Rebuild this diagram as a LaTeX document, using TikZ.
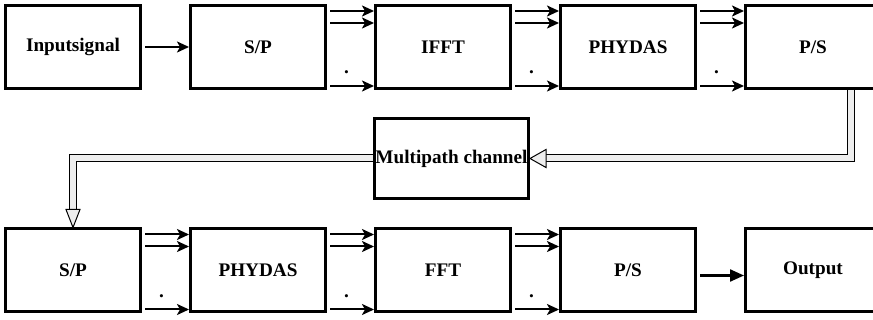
\documentclass[tikz,border=0pt]{standalone}
\usepackage{fontspec}
\setmainfont{Liberation Serif}
\usepackage{tikz}
\usetikzlibrary{arrows.meta,positioning,calc}
\definecolor{pipegray}{RGB}{238,238,238}

\begin{document}
\begin{tikzpicture}[
  x=0.5pt, y=-0.5pt,
  font=\fontsize{9.6}{11}\selectfont\bfseries,
  blk/.style={draw, line width=1.5pt, minimum width=67.5pt, minimum height=41.5pt,
              inner sep=0pt, align=center},
  arr/.style={-{Stealth[length=6pt,width=5.5pt,inset=1.5pt]}, line width=1pt,
              shorten <=1.5pt},
  bigarr/.style={-{Triangle[length=7pt,width=6pt]}, line width=1.1pt},
  pipe/.style={draw, line width=0.5pt, double=pipegray, double distance=3pt},
  pipehead/.style={draw, line width=0.5pt, fill=pipegray, line join=miter},
  dotlbl/.style={anchor=base, inner sep=0pt}
]
\clip (0,0) rectangle (873,320);
% transmitter
\node[blk] (in) at (73,47) {Inputsignal};
\node[blk, right=23.5pt of in] (sp1) {S/P};
\node[blk, right=23.5pt of sp1] (ifft) {IFFT};
\node[blk, right=23.5pt of ifft] (phy1) {PHYDAS};
\node[blk, right=23.5pt of phy1] (ps1) {P/S};
% channel
\node[blk, minimum width=77pt, minimum height=40pt] (mc) at (451.5,158.5) {Multipath channel};
% receiver
\node[blk, below=68.75pt of in] (sp2) {S/P};
\node[blk, right=23.5pt of sp2] (phy2) {PHYDAS};
\node[blk, right=23.5pt of phy2] (fft) {FFT};
\node[blk, right=23.5pt of fft] (ps2) {P/S};
\node[blk, right=23.5pt of ps2] (out) {Output};

\draw[arr] (in) -- (sp1);
\draw[bigarr] ([xshift=1.5pt,yshift=-2.5pt]ps2.east) -- ([yshift=-2.5pt]out.west);
\foreach \a/\b in {sp1/ifft, ifft/phy1, phy1/ps1, sp2/phy2, phy2/fft, fft/ps2} {
  \draw[arr] ([yshift=-3.5pt]\a.north east) -- ([yshift=-3.5pt]\b.north west);
  \draw[arr] ([yshift=-9.5pt]\a.north east) -- ([yshift=-9.5pt]\b.north west);
  \draw[arr] ([yshift=2pt]\a.south east) -- ([yshift=2pt]\b.south west);
  \node[dotlbl] at ($([xshift=-4pt,yshift=8pt]\a.south east)!0.5!([yshift=8pt]\b.south west)$) {.};
}

% hollow pipes
\coordinate (hd1) at ([xshift=8pt]mc.east);
\coordinate (hd2) at ([yshift=9pt]sp2.north);
\draw[pipe] ([xshift=19pt]ps1.south) |- (hd1);
\draw[pipehead] ([yshift=4.5pt]hd1) -- (mc.east) -- ([yshift=-4.5pt]hd1) -- cycle;
\draw[pipe] (mc.west) -| (hd2);
\draw[pipehead] ([xshift=-3.5pt]hd2) -- (sp2.north) -- ([xshift=3.5pt]hd2) -- cycle;
\end{tikzpicture}
\end{document}
